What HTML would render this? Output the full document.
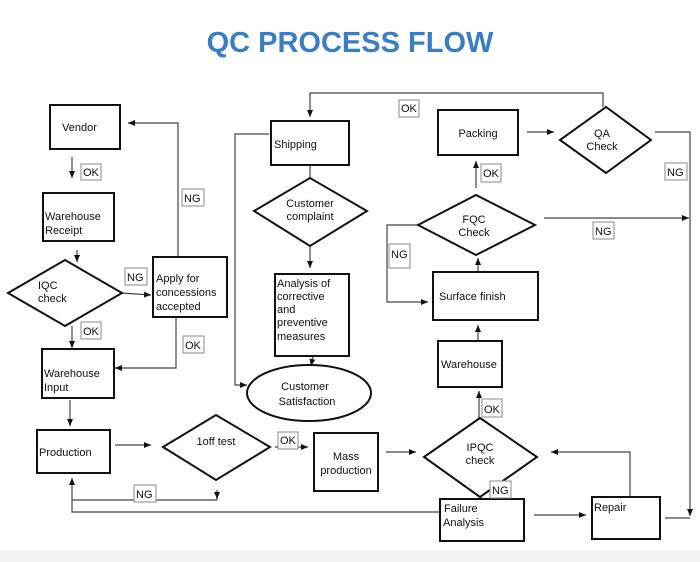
<!DOCTYPE html>
<html><head><meta charset="utf-8"><style>
html,body{margin:0;padding:0;background:#fff;}
svg{display:block;font-family:"Liberation Sans",Arial,sans-serif;}
.b{fill:#fff;stroke:#111;stroke-width:2}
.l{fill:none;stroke:#444;stroke-width:1.2}
.lb{fill:#fff;stroke:#888;stroke-width:1}
text{font-size:11px;fill:#111}
</style></head><body>
<svg width="700" height="562" viewBox="0 0 700 562">
<defs><marker id="a" markerWidth="8" markerHeight="8" refX="7" refY="4" orient="auto" markerUnits="userSpaceOnUse"><path d="M0,1 L7,4 L0,7 z" fill="#111"/></marker></defs>
<rect x="0" y="550" width="700" height="12" fill="#f3f3f3"/>
<text x="350" y="52" text-anchor="middle" style="font-size:29px;font-weight:bold;fill:#3b7dc4">QC PROCESS FLOW</text>

<!-- connectors -->
<g class="l">
<path d="M603,107 V93 H310 V117" marker-end="url(#a)"/>
<path d="M178,257 V123 H128" marker-end="url(#a)"/>
<path d="M72,157 V178" marker-end="url(#a)"/>
<path d="M77,250 V262" marker-end="url(#a)"/>
<path d="M122,293 L151,295" marker-end="url(#a)"/>
<path d="M176,317 V368 H115" marker-end="url(#a)"/>
<path d="M72,326 V348" marker-end="url(#a)"/>
<path d="M70,400 V426" marker-end="url(#a)"/>
<path d="M115,445 H151" marker-end="url(#a)"/>
<path d="M275,447 H308" marker-end="url(#a)"/>
<path d="M217,490 V500 M72,500 H217"/>
<path d="M217,492 V499" marker-end="url(#a)"/>
<path d="M440,512 H72 V478" marker-end="url(#a)"/>
<path d="M386,452 H416" marker-end="url(#a)"/>
<path d="M479,418 V391" marker-end="url(#a)"/>
<path d="M481,500 V497" marker-end="url(#a)"/>
<path d="M481,488 V497" marker-end="url(#a)"/>
<path d="M534,515 H586" marker-end="url(#a)"/>
<path d="M630,496 V452 H551" marker-end="url(#a)"/>
<path d="M655,132 H690 V516" marker-end="url(#a)"/>
<path d="M665,518 H690"/>
<path d="M544,218 H689" marker-end="url(#a)"/>
<path d="M418,225 H387 V302 H428" marker-end="url(#a)"/>
<path d="M478,272 V258" marker-end="url(#a)"/>
<path d="M478,341 V325" marker-end="url(#a)"/>
<path d="M476,188 V161" marker-end="url(#a)"/>
<path d="M527,132 H554" marker-end="url(#a)"/>
<path d="M269,134 H235 V385 H247" marker-end="url(#a)"/>
<path d="M310,165 V178"/>
<path d="M310,246 V268" marker-end="url(#a)"/>
<path d="M313,356 L311,366" marker-end="url(#a)"/>
</g>

<!-- shapes -->
<rect class="b" x="50" y="105" width="70" height="44"/>
<rect class="b" x="43" y="193" width="71" height="48"/>
<polygon class="b" points="8,293 65,260 122,293 65,326"/>
<rect class="b" x="153" y="257" width="74" height="60"/>
<rect class="b" x="42" y="349" width="72" height="49"/>
<rect class="b" x="37" y="430" width="73" height="43"/>
<polygon class="b" points="163,447 216,415 270,447 216,480"/>
<rect class="b" x="314" y="433" width="64" height="58"/>
<polygon class="b" points="424,457 480,418 537,457 480,497"/>
<rect class="b" x="440" y="499" width="84" height="42"/>
<rect class="b" x="592" y="497" width="68" height="42"/>
<rect class="b" x="438" y="341" width="64" height="46"/>
<rect class="b" x="433" y="272" width="105" height="48"/>
<polygon class="b" points="418,225 476,195 535,225 476,255"/>
<rect class="b" x="438" y="110" width="80" height="45"/>
<polygon class="b" points="560,140 606,107 651,140 606,173"/>
<rect class="b" x="271" y="121" width="78" height="44"/>
<polygon class="b" points="254,211 310,178 367,211 310,246"/>
<rect class="b" x="275" y="274" width="74" height="82"/>
<ellipse class="b" cx="309" cy="393" rx="62" ry="28"/>

<!-- labels -->
<g class="lb">
<rect x="399" y="100" width="20" height="17"/>
<rect x="81" y="164" width="20" height="16"/>
<rect x="182" y="189" width="22" height="17"/>
<rect x="125" y="268" width="22" height="17"/>
<rect x="81" y="322" width="20" height="17"/>
<rect x="183" y="336" width="21" height="17"/>
<rect x="278" y="432" width="20" height="17"/>
<rect x="134" y="485" width="22" height="17"/>
<rect x="482" y="399" width="20" height="18"/>
<rect x="490" y="481" width="21" height="17"/>
<rect x="665" y="163" width="22" height="17"/>
<rect x="593" y="222" width="21" height="17"/>
<rect x="389" y="244" width="21" height="24"/>
<rect x="481" y="164" width="20" height="18"/>
</g>
<text x="401" y="112">OK</text>
<text x="83" y="176">OK</text>
<text x="184" y="202">NG</text>
<text x="127" y="281">NG</text>
<text x="83" y="335">OK</text>
<text x="185" y="349">OK</text>
<text x="280" y="444">OK</text>
<text x="136" y="498">NG</text>
<text x="484" y="413">OK</text>
<text x="492" y="494">NG</text>
<text x="667" y="176">NG</text>
<text x="595" y="235">NG</text>
<text x="391" y="258">NG</text>
<text x="483" y="177">OK</text>

<text x="62" y="131">Vendor</text>
<text x="45" y="220">Warehouse</text><text x="45" y="234">Receipt</text>
<text x="38" y="289">IQC</text><text x="38" y="302">check</text>
<text x="156" y="282">Apply for</text><text x="156" y="296">concessions</text><text x="156" y="310">accepted</text>
<text x="44" y="377">Warehouse</text><text x="44" y="391">Input</text>
<text x="39" y="456">Production</text>
<text x="216" y="445" text-anchor="middle">1off test</text>
<text x="346" y="460" text-anchor="middle">Mass</text><text x="346" y="474" text-anchor="middle">production</text>
<text x="480" y="451" text-anchor="middle">IPQC</text><text x="480" y="464" text-anchor="middle">check</text>
<text x="444" y="512">Failure</text><text x="443" y="526">Analysis</text>
<text x="594" y="511">Repair</text>
<text x="441" y="368">Warehouse</text>
<text x="439" y="300">Surface finish</text>
<text x="474" y="223" text-anchor="middle">FQC</text><text x="474" y="236" text-anchor="middle">Check</text>
<text x="478" y="137" text-anchor="middle">Packing</text>
<text x="602" y="137" text-anchor="middle">QA</text><text x="602" y="150" text-anchor="middle">Check</text>
<text x="274" y="148">Shipping</text>
<text x="310" y="207" text-anchor="middle">Customer</text><text x="310" y="220" text-anchor="middle">complaint</text>
<text x="277" y="287">Analysis of</text><text x="277" y="300">corrective</text><text x="277" y="313">and</text><text x="277" y="326">preventive</text><text x="277" y="340">measures</text>
<text x="305" y="390" text-anchor="middle">Customer</text><text x="307" y="405" text-anchor="middle">Satisfaction</text>
</svg>
</body></html>
